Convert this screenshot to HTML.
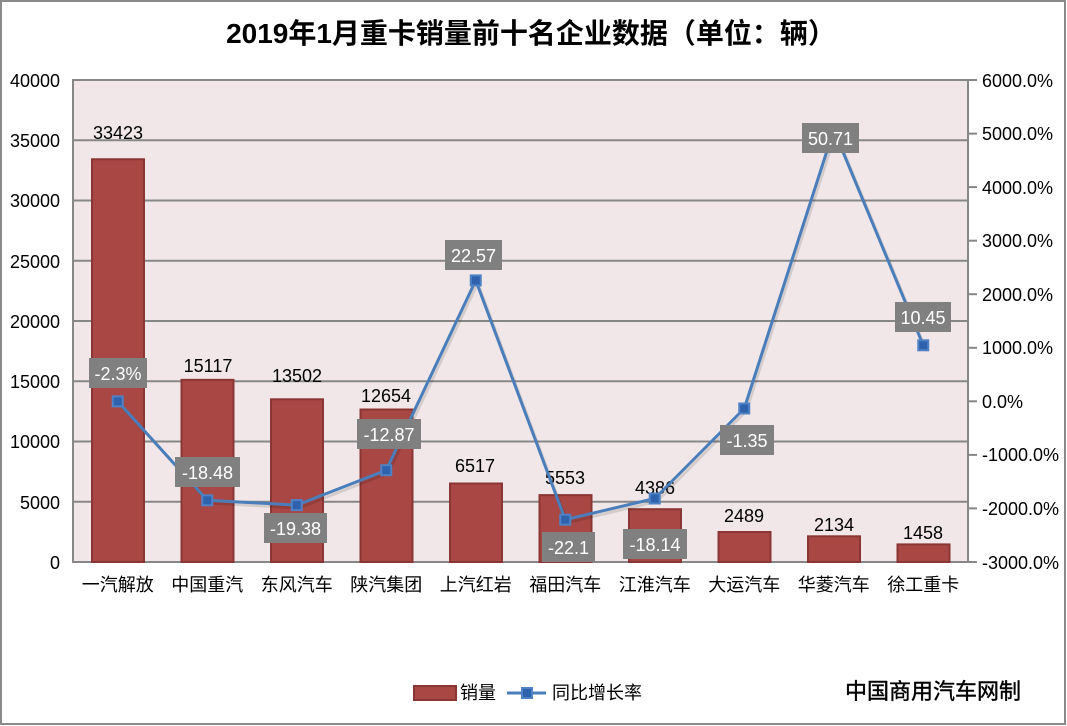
<!DOCTYPE html>
<html><head><meta charset="utf-8"><style>
html,body{margin:0;padding:0;background:#fff;}
svg{display:block;}
text{font-family:"Liberation Sans","Noto Sans CJK SC",sans-serif;}
</style></head><body>
<svg width="1067" height="726" viewBox="0 0 1067 726" xmlns="http://www.w3.org/2000/svg">
<rect x="0" y="0" width="1067" height="726" fill="#fff"/>
<rect x="1" y="1" width="1064" height="723" fill="none" stroke="#8a8a8a" stroke-width="2"/>
<text x="531" y="43" text-anchor="middle" font-size="28" font-weight="bold" fill="#000">2019年1月重卡销量前十名企业数据（单位：辆）</text>
<!-- plot area -->
<rect x="73" y="80" width="895" height="482" fill="#f2e7e8"/>
<g stroke="#878787" stroke-width="2">
<line x1="73" y1="140.25" x2="968" y2="140.25"/>
<line x1="73" y1="200.5" x2="968" y2="200.5"/>
<line x1="73" y1="260.75" x2="968" y2="260.75"/>
<line x1="73" y1="321" x2="968" y2="321"/>
<line x1="73" y1="381.25" x2="968" y2="381.25"/>
<line x1="73" y1="441.5" x2="968" y2="441.5"/>
<line x1="73" y1="501.75" x2="968" y2="501.75"/>
<line x1="72" y1="80" x2="969" y2="80"/>
<line x1="73" y1="80" x2="73" y2="563"/>
<line x1="968" y1="80" x2="968" y2="563"/>
<line x1="72" y1="562" x2="969" y2="562"/>
<!-- right ticks -->
<line x1="968" y1="80" x2="977" y2="80"/>
<line x1="968" y1="133.6" x2="977" y2="133.6"/>
<line x1="968" y1="187.1" x2="977" y2="187.1"/>
<line x1="968" y1="240.7" x2="977" y2="240.7"/>
<line x1="968" y1="294.2" x2="977" y2="294.2"/>
<line x1="968" y1="347.8" x2="977" y2="347.8"/>
<line x1="968" y1="401.3" x2="977" y2="401.3"/>
<line x1="968" y1="454.9" x2="977" y2="454.9"/>
<line x1="968" y1="508.4" x2="977" y2="508.4"/>
<line x1="968" y1="562" x2="977" y2="562"/>
</g>
<!-- left axis labels -->
<g font-size="18" fill="#000" text-anchor="end">
<text x="60" y="87">40000</text>
<text x="60" y="147">35000</text>
<text x="60" y="207">30000</text>
<text x="60" y="268">25000</text>
<text x="60" y="328">20000</text>
<text x="60" y="388">15000</text>
<text x="60" y="448">10000</text>
<text x="60" y="509">5000</text>
<text x="60" y="569">0</text>
</g>
<!-- right axis labels -->
<g font-size="18" fill="#000">
<text x="982" y="87">6000.0%</text>
<text x="982" y="140">5000.0%</text>
<text x="982" y="194">4000.0%</text>
<text x="982" y="247">3000.0%</text>
<text x="982" y="301">2000.0%</text>
<text x="982" y="354">1000.0%</text>
<text x="982" y="408">0.0%</text>
<text x="982" y="461">-1000.0%</text>
<text x="982" y="515">-2000.0%</text>
<text x="982" y="569">-3000.0%</text>
</g>
<!-- bars -->
<g fill="#a94745" stroke="#8a3634" stroke-width="2">
<rect x="92" y="159.25" width="52" height="402.75"/>
<rect x="181.5" y="379.84" width="52" height="182.16"/>
<rect x="271" y="399.3" width="52" height="162.7"/>
<rect x="360.5" y="409.5" width="52" height="152.5"/>
<rect x="450" y="483.5" width="52" height="78.5"/>
<rect x="539.5" y="495.1" width="52" height="66.9"/>
<rect x="629" y="509.2" width="52" height="52.8"/>
<rect x="718.5" y="532" width="52" height="30"/>
<rect x="808" y="536.3" width="52" height="25.7"/>
<rect x="897.5" y="544.4" width="52" height="17.6"/>
</g>
<!-- bar labels -->
<g font-size="18" fill="#000" text-anchor="middle">
<text x="118" y="139">33423</text>
<text x="208" y="372">15117</text>
<text x="297" y="382">13502</text>
<text x="386" y="402">12654</text>
<text x="475" y="472">6517</text>
<text x="565" y="484">5553</text>
<text x="655" y="494">4386</text>
<text x="744" y="522">2489</text>
<text x="834" y="531">2134</text>
<text x="923" y="539">1458</text>
</g>
<!-- line shadow -->
<polyline points="119.75,404 209.25,503 298.75,508 388.25,473 477.75,283 567.25,522.5 656.75,501.5 746.25,411 835.75,132.5 925.25,348" fill="none" stroke="#000" stroke-opacity="0.12" stroke-width="3" stroke-linejoin="round"/>
<!-- line -->
<polyline points="117.75,401.4 207.25,500.3 296.75,505.1 386.25,470.2 475.75,280.4 565.25,519.7 654.75,498.5 744.25,408.5 833.75,129.7 923.25,345.3" fill="none" stroke="#4a7ebb" stroke-width="3" stroke-linejoin="round"/>
<g fill="#2f62ad" stroke="#4f82c4" stroke-width="2">
<rect x="112.75" y="396.4" width="10" height="10"/>
<rect x="202.25" y="495.3" width="10" height="10"/>
<rect x="291.75" y="500.1" width="10" height="10"/>
<rect x="381.25" y="465.2" width="10" height="10"/>
<rect x="470.75" y="275.4" width="10" height="10"/>
<rect x="560.25" y="514.7" width="10" height="10"/>
<rect x="649.75" y="493.5" width="10" height="10"/>
<rect x="739.25" y="403.5" width="10" height="10"/>
<rect x="828.75" y="124.7" width="10" height="10"/>
<rect x="918.25" y="340.3" width="10" height="10"/>
</g>
<!-- line labels -->
<g fill="#808080">
<rect x="89" y="358" width="58" height="30"/>
<rect x="175" y="457" width="65" height="30"/>
<rect x="264" y="513" width="63" height="30"/>
<rect x="357" y="419" width="64" height="30"/>
<rect x="445" y="240" width="57" height="30"/>
<rect x="542" y="532" width="53" height="30"/>
<rect x="623" y="529" width="64" height="30"/>
<rect x="720" y="425" width="54" height="30"/>
<rect x="802" y="123" width="57" height="30"/>
<rect x="895" y="302" width="56" height="30"/>
</g>
<g font-size="18" fill="#fff" text-anchor="middle">
<text x="118" y="380">-2.3%</text>
<text x="207.5" y="479">-18.48</text>
<text x="295.5" y="535">-19.38</text>
<text x="389" y="441">-12.87</text>
<text x="473.5" y="262">22.57</text>
<text x="568.5" y="554">-22.1</text>
<text x="655" y="551">-18.14</text>
<text x="747" y="447">-1.35</text>
<text x="830.5" y="145">50.71</text>
<text x="923" y="324">10.45</text>
</g>
<!-- category labels -->
<g font-size="18" fill="#000" text-anchor="middle">
<text x="117.75" y="591">一汽解放</text>
<text x="207.25" y="591">中国重汽</text>
<text x="296.75" y="591">东风汽车</text>
<text x="386.25" y="591">陕汽集团</text>
<text x="475.75" y="591">上汽红岩</text>
<text x="565.25" y="591">福田汽车</text>
<text x="654.75" y="591">江淮汽车</text>
<text x="744.25" y="591">大运汽车</text>
<text x="833.75" y="591">华菱汽车</text>
<text x="923.25" y="591">徐工重卡</text>
</g>
<!-- legend -->
<rect x="414" y="686" width="42" height="14" fill="#a94745" stroke="#8a3634" stroke-width="2"/>
<text x="460" y="699" font-size="18" fill="#000">销量</text>
<line x1="507" y1="693" x2="546" y2="693" stroke="#4a7ebb" stroke-width="3"/>
<rect x="522" y="688" width="10" height="10" fill="#2f62ad" stroke="#4f82c4" stroke-width="2"/>
<text x="552" y="699" font-size="18" fill="#000">同比增长率</text>
<text x="845" y="699" font-size="22" fill="#000" stroke="#000" stroke-width="0.4">中国商用汽车网制</text>
</svg>
</body></html>
